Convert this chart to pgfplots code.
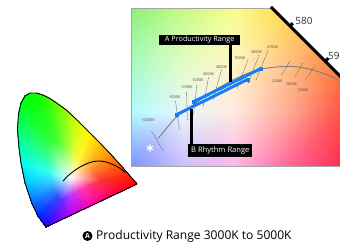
\documentclass[border=0pt]{standalone}
\usepackage{pgfplots}
\pgfplotsset{compat=1.18}
\usepackage{fontspec}
\setmainfont{Open Sans}
\definecolor{cblue}{RGB}{25,125,245}
\definecolor{isog}{RGB}{100,100,100}
\definecolor{isot}{RGB}{85,70,60}
\begin{document}
\begin{tikzpicture}
\begin{axis}[
  scale only axis, width=340bp, height=246bp,
  xmin=0, xmax=340, ymin=0, ymax=246, y dir=reverse,
  axis line style={draw=none}, xtick=\empty, ytick=\empty,
  clip=true,
]
% ---- full chromaticity horseshoe: inner fan
\addplot[patch, patch type=triangle, shader=interp, mesh/color input=explicit] table[meta=c] {
x y c
72 178 rgb255=255,250,250
60.3 200.05 rgb255=83,51,255
56.8 195.4 rgb255=51,83,255
72 178 rgb255=255,250,250
56.8 195.4 rgb255=51,83,255
53.9 189.3 rgb255=51,139,255
72 178 rgb255=255,250,250
53.9 189.3 rgb255=51,139,255
50.9 180.3 rgb255=51,211,255
72 178 rgb255=255,250,250
50.9 180.3 rgb255=51,211,255
49.1 171.3 rgb255=51,255,239
72 178 rgb255=255,250,250
49.1 171.3 rgb255=51,255,239
48.2 164.5 rgb255=51,255,195
72 178 rgb255=255,250,250
48.2 164.5 rgb255=51,255,195
47.5 156.4 rgb255=51,255,147
72 178 rgb255=255,250,250
47.5 156.4 rgb255=51,255,147
47.9 149.2 rgb255=51,255,107
72 178 rgb255=255,250,250
47.9 149.2 rgb255=51,255,107
49.1 144.3 rgb255=51,255,75
72 178 rgb255=255,250,250
49.1 144.3 rgb255=51,255,75
50.9 141.1 rgb255=51,255,59
72 178 rgb255=255,250,250
50.9 141.1 rgb255=51,255,59
53.1 139.75 rgb255=51,255,51
72 178 rgb255=255,250,250
53.1 139.75 rgb255=51,255,51
55.8 139.75 rgb255=59,255,51
72 178 rgb255=255,250,250
55.8 139.75 rgb255=59,255,51
58.95 140.65 rgb255=75,255,51
72 178 rgb255=255,250,250
58.95 140.65 rgb255=75,255,51
62.1 142.2 rgb255=99,255,51
72 178 rgb255=255,250,250
62.1 142.2 rgb255=99,255,51
65.7 144.7 rgb255=131,255,51
72 178 rgb255=255,250,250
65.7 144.7 rgb255=131,255,51
69.75 147.6 rgb255=171,255,51
72 178 rgb255=255,250,250
69.75 147.6 rgb255=171,255,51
74.7 152.35 rgb255=219,255,51
72 178 rgb255=255,250,250
74.7 152.35 rgb255=219,255,51
80.1 157.75 rgb255=255,247,51
72 178 rgb255=255,250,250
80.1 157.75 rgb255=255,247,51
84.6 162.25 rgb255=255,211,51
72 178 rgb255=255,250,250
84.6 162.25 rgb255=255,211,51
89.1 167 rgb255=255,171,51
72 178 rgb255=255,250,250
89.1 167 rgb255=255,171,51
93.6 171.9 rgb255=255,123,51
72 178 rgb255=255,250,250
93.6 171.9 rgb255=255,123,51
98.1 177.1 rgb255=255,79,51
72 178 rgb255=255,250,250
98.1 177.1 rgb255=255,79,51
101.25 180.7 rgb255=255,51,51
72 178 rgb255=255,250,250
101.25 180.7 rgb255=255,51,51
90.9 185.6 rgb255=255,51,107
72 178 rgb255=255,250,250
90.9 185.6 rgb255=255,51,107
80.55 190.5 rgb255=255,51,187
72 178 rgb255=255,250,250
80.55 190.5 rgb255=255,51,187
70.2 195.4 rgb255=187,51,255
72 178 rgb255=255,250,250
70.2 195.4 rgb255=187,51,255
60.3 200.05 rgb255=83,51,255
};
% ---- horseshoe: outer ring
\addplot[patch, patch type=rectangle, shader=interp, mesh/color input=explicit] table[meta=c] {
x y c
60.3 200.05 rgb255=83,51,255
46 227 rgb255=40,0,255
38.3 216.7 rgb255=0,40,255
56.8 195.4 rgb255=51,83,255
56.8 195.4 rgb255=51,83,255
38.3 216.7 rgb255=0,40,255
31.7 203 rgb255=0,110,255
53.9 189.3 rgb255=51,139,255
53.9 189.3 rgb255=51,139,255
31.7 203 rgb255=0,110,255
25 183 rgb255=0,200,255
50.9 180.3 rgb255=51,211,255
50.9 180.3 rgb255=51,211,255
25 183 rgb255=0,200,255
21 163 rgb255=0,255,235
49.1 171.3 rgb255=51,255,239
49.1 171.3 rgb255=51,255,239
21 163 rgb255=0,255,235
19 148 rgb255=0,255,180
48.2 164.5 rgb255=51,255,195
48.2 164.5 rgb255=51,255,195
19 148 rgb255=0,255,180
17.5 130 rgb255=0,255,120
47.5 156.4 rgb255=51,255,147
47.5 156.4 rgb255=51,255,147
17.5 130 rgb255=0,255,120
18.5 114 rgb255=0,255,70
47.9 149.2 rgb255=51,255,107
47.9 149.2 rgb255=51,255,107
18.5 114 rgb255=0,255,70
21 103 rgb255=0,255,30
49.1 144.3 rgb255=51,255,75
49.1 144.3 rgb255=51,255,75
21 103 rgb255=0,255,30
25 96 rgb255=0,255,10
50.9 141.1 rgb255=51,255,59
50.9 141.1 rgb255=51,255,59
25 96 rgb255=0,255,10
30 93 rgb255=0,255,0
53.1 139.75 rgb255=51,255,51
53.1 139.75 rgb255=51,255,51
30 93 rgb255=0,255,0
36 93 rgb255=10,255,0
55.8 139.75 rgb255=59,255,51
55.8 139.75 rgb255=59,255,51
36 93 rgb255=10,255,0
43 95 rgb255=30,255,0
58.95 140.65 rgb255=75,255,51
58.95 140.65 rgb255=75,255,51
43 95 rgb255=30,255,0
50 98.5 rgb255=60,255,0
62.1 142.2 rgb255=99,255,51
62.1 142.2 rgb255=99,255,51
50 98.5 rgb255=60,255,0
58 104 rgb255=100,255,0
65.7 144.7 rgb255=131,255,51
65.7 144.7 rgb255=131,255,51
58 104 rgb255=100,255,0
67 110.5 rgb255=150,255,0
69.75 147.6 rgb255=171,255,51
69.75 147.6 rgb255=171,255,51
67 110.5 rgb255=150,255,0
78 121 rgb255=210,255,0
74.7 152.35 rgb255=219,255,51
74.7 152.35 rgb255=219,255,51
78 121 rgb255=210,255,0
90 133 rgb255=255,245,0
80.1 157.75 rgb255=255,247,51
80.1 157.75 rgb255=255,247,51
90 133 rgb255=255,245,0
100 143 rgb255=255,200,0
84.6 162.25 rgb255=255,211,51
84.6 162.25 rgb255=255,211,51
100 143 rgb255=255,200,0
110 153.5 rgb255=255,150,0
89.1 167 rgb255=255,171,51
89.1 167 rgb255=255,171,51
110 153.5 rgb255=255,150,0
120 164.5 rgb255=255,90,0
93.6 171.9 rgb255=255,123,51
93.6 171.9 rgb255=255,123,51
120 164.5 rgb255=255,90,0
130 176 rgb255=255,35,0
98.1 177.1 rgb255=255,79,51
98.1 177.1 rgb255=255,79,51
130 176 rgb255=255,35,0
137 184 rgb255=255,0,0
101.25 180.7 rgb255=255,51,51
101.25 180.7 rgb255=255,51,51
137 184 rgb255=255,0,0
114 194.9 rgb255=255,0,70
90.9 185.6 rgb255=255,51,107
90.9 185.6 rgb255=255,51,107
114 194.9 rgb255=255,0,70
91 205.7 rgb255=255,0,170
80.55 190.5 rgb255=255,51,187
80.55 190.5 rgb255=255,51,187
91 205.7 rgb255=255,0,170
68 216.6 rgb255=170,0,255
70.2 195.4 rgb255=187,51,255
70.2 195.4 rgb255=187,51,255
68 216.6 rgb255=170,0,255
46 227 rgb255=40,0,255
60.3 200.05 rgb255=83,51,255
};
% horseshoe outline
\addplot[black, line width=0.9bp, line join=round] coordinates {
(46,227) (38.3,216.7) (31.7,203) (25,183) (21,163) (19,148) (17.5,130)
(18.5,114) (21,103) (25,96) (30,93) (36,93) (43,95) (50,98.5) (58,104)
(67,110.5) (78,121) (90,133) (100,143) (110,153.5) (120,164.5) (130,176)
(137,184) (46,227)};
% small Planckian locus
\addplot[black, line width=0.9bp, smooth] coordinates {
(63,181) (70,174) (80,167) (90,162.5) (98,161) (106,162) (114,165) (121,169) (125,172.5)};

% ---- zoomed inset (rectangular patches, vertex colours)
\addplot[patch, patch type=rectangle, shader=interp, mesh/color input=explicit] table[meta=c] {
x y c
131 8 rgb255=140,240,120
183.25 8 rgb255=195,250,130
183.25 60.67 rgb255=225,252,195
131 60.67 rgb255=165,250,190
183.25 8 rgb255=195,250,130
235.5 8 rgb255=245,255,140
235.5 60.67 rgb255=255,245,195
183.25 60.67 rgb255=225,252,195
235.5 8 rgb255=245,255,140
287.75 8 rgb255=255,215,70
287.75 60.67 rgb255=255,195,130
235.5 60.67 rgb255=255,245,195
287.75 8 rgb255=255,215,70
340 8 rgb255=255,160,40
340 60.67 rgb255=255,125,55
287.75 60.67 rgb255=255,195,130
131 60.67 rgb255=165,250,190
183.25 60.67 rgb255=225,252,195
183.25 113.33 rgb255=235,245,250
131 113.33 rgb255=175,250,255
183.25 60.67 rgb255=225,252,195
235.5 60.67 rgb255=255,245,195
235.5 113.33 rgb255=255,232,225
183.25 113.33 rgb255=235,245,250
235.5 60.67 rgb255=255,245,195
287.75 60.67 rgb255=255,195,130
287.75 113.33 rgb255=255,170,150
235.5 113.33 rgb255=255,232,225
287.75 60.67 rgb255=255,195,130
340 60.67 rgb255=255,125,55
340 113.33 rgb255=255,85,70
287.75 113.33 rgb255=255,170,150
131 113.33 rgb255=175,250,255
183.25 113.33 rgb255=235,245,250
183.25 166 rgb255=205,190,255
131 166 rgb255=125,145,255
183.25 113.33 rgb255=235,245,250
235.5 113.33 rgb255=255,232,225
235.5 166 rgb255=255,180,230
183.25 166 rgb255=205,190,255
235.5 113.33 rgb255=255,232,225
287.75 113.33 rgb255=255,170,150
287.75 166 rgb255=255,105,155
235.5 166 rgb255=255,180,230
287.75 113.33 rgb255=255,170,150
340 113.33 rgb255=255,85,70
340 166 rgb255=255,45,80
287.75 166 rgb255=255,105,155
};
% outside-gamut corner
\addplot[fill=white, draw=none] coordinates {(272,6) (342,6) (342,78)};
% frame
\addplot[gray!70, line width=0.8bp] coordinates {(272,8) (131,8) (131,166) (342,166)};
% spectral locus edge with ticks
\addplot[black, line width=3bp] coordinates {(271,7) (342,78)};
\addplot[black, line width=3bp] coordinates {(289.5,26.5) (292.8,23.2)};
\addplot[black, line width=3bp] coordinates {(325,61.5) (328.3,58.2)};

% Planckian locus
\addplot[gray, line width=0.9bp, smooth] coordinates {
(158.3,138.3) (176.7,116.7) (193,105) (211,92.5) (230,81.5) (245,74.5) (260,69.3)
(280,66.7) (296.7,66.7) (313,70) (330,76) (342,82.5)};

% isotherms
\pgfplotsset{iso/.style={isog, line width=0.55bp, dash pattern=on 1.3bp off 0.9bp}}
\addplot[iso] coordinates {(151.5,131) (163.5,151)};
\addplot[iso] coordinates {(175.5,101) (179.5,130)};
\addplot[iso] coordinates {(186.5,92) (187.5,120)};
\addplot[iso] coordinates {(197,84.5) (193.5,115)};
\addplot[iso] coordinates {(208.5,77.5) (203,107)};
\addplot[iso] coordinates {(221.5,70) (213,100)};
\addplot[iso] coordinates {(248,59.5) (237,89)};
\addplot[iso] coordinates {(259,55) (248,84)};
\addplot[iso] coordinates {(268,50.5) (256,80)};
\addplot[iso] coordinates {(290,61) (281.5,75)};
\addplot[iso] coordinates {(303,63) (295,77)};
\addplot[iso] coordinates {(314.5,66.5) (305.5,80)};

% ranges
\addplot[cblue, line width=3bp, mark=square*, mark size=1.5bp, mark options={line width=0.3bp}] coordinates {(177,114.5) (248,79.2)};
\addplot[cblue, line width=3bp, mark=square*, mark size=1.5bp, mark options={line width=0.3bp}] coordinates {(194,101.5) (261,68.5)};

% pointers
\addplot[black, line width=3.5bp] coordinates {(230.5,45) (230.5,82)};
\addplot[black, line width=3.5bp] coordinates {(191.5,108.5) (191.5,145)};

% white point
\addplot[only marks, mark=asterisk, white, mark size=3.5bp, line width=1.1bp] coordinates {(150,148)};

% texts
\begin{scope}[every node/.style={inner sep=0pt, text=isot, font=\fontsize{3.8}{4}\selectfont}]
\node at (148,120.5) {10000K};
\node at (175,97.5) {6500K};
\node at (187,87.5) {5700K};
\node at (198,80) {5000K};
\node at (208.5,74) {4500K};
\node at (221.5,66.7) {4000K};
\node at (240,58.3) {3500K};
\node at (256.5,52) {3000K};
\node at (272.5,47.5) {2700K};
\node at (277,81) {2200K};
\node at (291.5,84) {2000K};
\node at (303,90) {1800K};
\end{scope}
\node[text=black!80, font=\fontsize{10}{12}\selectfont] at (304,21) {580};
\node[text=black!80, anchor=west, inner sep=0pt, font=\fontsize{10}{12}\selectfont] at (328,56) {59};

\node[fill=black, text=white, minimum width=80.7bp, minimum height=10.6bp, inner sep=0pt, font=\fontsize{7.3}{8}\selectfont] at (199.7,40) {A Productivity Range};
\node[fill=black, text=white, minimum width=64bp, minimum height=12.7bp, inner sep=0pt, font=\fontsize{7.6}{8}\selectfont] at (220.3,150.3) {B Rhythm Range};

\node[circle, fill=black, text=white, inner sep=0pt, minimum size=10bp, font=\bfseries\fontsize{7}{8}\selectfont] at (87.5,236) {A};
\node[anchor=west, inner sep=0pt, font=\fontsize{12.1}{14}\selectfont] at (96,236) {Productivity Range 3000K to 5000K};
\end{axis}
\end{tikzpicture}
\end{document}
